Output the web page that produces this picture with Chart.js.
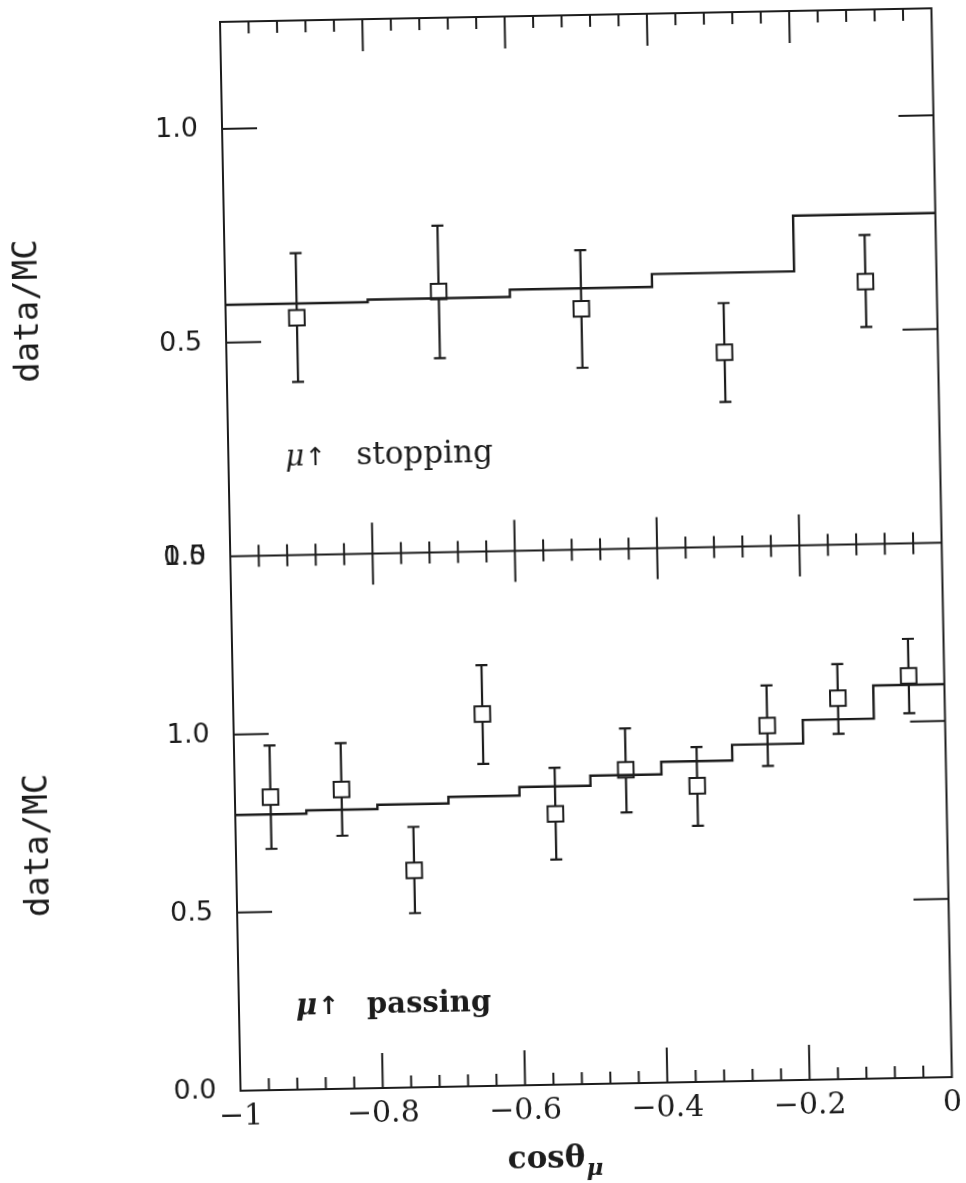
<!DOCTYPE html>
<html lang="en">
  <head>
    <meta charset="UTF-8" />
    <meta name="viewport" content="width=device-width, initial-scale=1.0" />
    <title>data/MC vs cos theta</title>
    <style>
      html, body { margin: 0; padding: 0; background: #fff; overflow: hidden; }
      /* the scanned figure sits slightly tilted, tilt the canvas the same way */
      #chart { display: block; transform: rotate(-1.1deg); transform-origin: 50% 50%; }
    </style>
  </head>
  <body>
    <canvas id="chart" width="966" height="1183"></canvas>
  </body>
  <script src="https://cdn.jsdelivr.net/npm/chart.js"></script>
  <script>
    // upward stopping muons, 0.2 wide bins
    var stopEdges = [-1, -0.8, -0.6, -0.4, -0.2, 0];
    var stopX = [-0.9, -0.7, -0.5, -0.3, -0.1];
    var stopRatio = [0.555, 0.61, 0.563, 0.455, 0.614];
    var stopLow = [0.405, 0.454, 0.425, 0.339, 0.508];
    var stopHigh = [0.706, 0.764, 0.7, 0.57, 0.723];
    var stopMC = [0.588, 0.594, 0.611, 0.641, 0.771];

    // upward through-going muons, 0.1 wide bins
    var passEdges = [-1, -0.9, -0.8, -0.7, -0.6, -0.5, -0.4, -0.3, -0.2, -0.1, 0];
    var passX = [-0.95, -0.85, -0.75, -0.65, -0.55, -0.45, -0.35, -0.25, -0.15, -0.05];
    var passRatio = [0.822, 0.84, 0.609, 1.044, 0.76, 0.88, 0.831, 0.996, 1.069, 1.128];
    var passLow = [0.677, 0.71, 0.489, 0.904, 0.632, 0.76, 0.719, 0.883, 0.969, 1.023];
    var passHigh = [0.967, 0.97, 0.731, 1.181, 0.889, 0.996, 0.94, 1.109, 1.165, 1.232];
    var passMC = [0.774, 0.783, 0.795, 0.813, 0.837, 0.865, 0.9, 0.944, 1.01, 1.103];

    var xTicks = [-1, -0.8, -0.6, -0.4, -0.2, 0];
    var stopTicks = [0, 0.5, 1.0];
    var passTicks = [0, 0.5, 1.0, 1.5];

    var ink = "#1c1c1c";
    var serif = '"DejaVu Serif", serif';
    var sans = '"DejaVu Sans", sans-serif';
    var mono = '"DejaVu Sans Mono", monospace';

    function histo(edges, vals) {
      // one point per left edge, plus the closing right edge
      return edges.map(function (x, i) {
        return { x: x, y: vals[Math.min(i, vals.length - 1)] };
      });
    }

    function points(xs, ys) {
      return xs.map(function (x, i) {
        return { x: x, y: ys[i] };
      });
    }

    var errorBars = {
      id: "errorBars",
      beforeDatasetsDraw: function (chart) {
        var ctx = chart.ctx;
        var xs = chart.scales.x;
        var sets = [
          [chart.scales.yTop, stopX, stopLow, stopHigh],
          [chart.scales.yBot, passX, passLow, passHigh],
        ];
        ctx.save();
        ctx.strokeStyle = ink;
        ctx.lineWidth = 2.2;
        sets.forEach(function (s) {
          var ys = s[0];
          s[1].forEach(function (v, i) {
            var px = xs.getPixelForValue(v);
            var lo = ys.getPixelForValue(s[2][i]);
            var hi = ys.getPixelForValue(s[3][i]);
            ctx.beginPath();
            ctx.moveTo(px, lo);
            ctx.lineTo(px, hi);
            ctx.moveTo(px - 6, lo);
            ctx.lineTo(px + 6, lo);
            ctx.moveTo(px - 6, hi);
            ctx.lineTo(px + 6, hi);
            ctx.stroke();
          });
        });
        ctx.restore();
      },
    };

    var frame = {
      id: "frame",
      afterDraw: function (chart) {
        var ctx = chart.ctx;
        var a = chart.chartArea;
        var xs = chart.scales.x;
        var yt = chart.scales.yTop;
        var yb = chart.scales.yBot;
        var mid = yt.bottom;
        ctx.save();
        ctx.strokeStyle = ink;
        ctx.lineWidth = 2;
        ctx.strokeRect(a.left, a.top, a.right - a.left, a.bottom - a.top);
        ctx.beginPath();
        ctx.moveTo(a.left, mid);
        ctx.lineTo(a.right, mid);

        // x ticks every 0.04, major every 0.2
        for (var i = 1; i < 25; i++) {
          var px = xs.getPixelForValue(-1 + i * 0.04);
          var major = i % 5 === 0;
          ctx.moveTo(px, a.top);
          ctx.lineTo(px, a.top + (major ? 32 : 12));
          ctx.moveTo(px, mid - (major ? 31 : 11));
          ctx.lineTo(px, mid + (major ? 31 : 11));
          ctx.moveTo(px, a.bottom);
          ctx.lineTo(px, a.bottom - (major ? 35 : 12));
        }

        // y ticks on both sides, pointing in
        [[yt, stopTicks], [yb, passTicks]].forEach(function (p) {
          p[1].forEach(function (v) {
            if (v === 0 || v === p[0].max) return;
            var py = p[0].getPixelForValue(v);
            ctx.moveTo(a.left, py);
            ctx.lineTo(a.left + 35, py);
            ctx.moveTo(a.right, py);
            ctx.lineTo(a.right - 35, py);
          });
        });
        ctx.stroke();

        // panel labels
        ctx.fillStyle = ink;
        ctx.textBaseline = "alphabetic";
        ctx.textAlign = "left";
        [[yt, "stopping", "", 31], [yb, "passing", "bold ", 29]].forEach(function (p) {
          var by = p[0].getPixelForValue(0.21);
          var mx = xs.getPixelForValue(-0.92);
          ctx.font = "italic " + p[2] + "29px " + serif;
          ctx.fillText("μ", mx, by);
          var w = ctx.measureText("μ").width;
          ctx.font = p[2] + "25px " + sans;
          ctx.fillText("↑", mx + w + 1, by);
          ctx.font = p[2] + p[3] + "px " + serif;
          ctx.fillText(p[1], xs.getPixelForValue(-0.82), by);
        });

        // y titles
        ctx.font = "34px " + mono;
        ctx.textAlign = "center";
        ctx.textBaseline = "middle";
        [yt, yb].forEach(function (s) {
          ctx.save();
          ctx.translate(34, (s.top + s.bottom) / 2 + 18);
          ctx.rotate(-Math.PI / 2);
          ctx.fillText("data/MC", 0, 0);
          ctx.restore();
        });

        // x title: cos theta with mu subscript
        ctx.textAlign = "left";
        ctx.textBaseline = "alphabetic";
        ctx.font = "bold 31px " + serif;
        var main = "cosθ";
        var mw = ctx.measureText(main).width;
        ctx.font = "italic bold 23px " + serif;
        var sw = ctx.measureText("μ").width;
        var tx = xs.getPixelForValue(-0.56) - (mw + sw) / 2;
        var ty = a.bottom + 83;
        ctx.font = "bold 31px " + serif;
        ctx.fillText(main, tx, ty);
        ctx.font = "italic bold 23px " + serif;
        ctx.fillText("μ", tx + mw + 1, ty + 8);
        ctx.restore();
      },
    };

    function yAxis(min, max, list) {
      return {
        type: "linear",
        position: "left",
        stack: "panels",
        stackWeight: 1,
        min: min,
        max: max,
        grid: { display: false, drawTicks: false },
        border: { display: false },
        afterBuildTicks: function (s) {
          s.ticks = list.map(function (v) {
            return { value: v };
          });
        },
        afterFit: function (s) {
          s.width = 231;
          s.paddingTop = 0;
          s.paddingBottom = 0;
        },
        ticks: {
          padding: 24,
          color: ink,
          font: { family: sans, size: 27 },
          callback: function (v) {
            return v.toFixed(1);
          },
        },
      };
    }

    var config = {
      type: "scatter",
      data: {
        datasets: [
          {
            type: "line",
            data: histo(stopEdges, stopMC),
            yAxisID: "yTop",
            stepped: true,
            borderColor: ink,
            borderWidth: 2.4,
            pointRadius: 0,
            fill: false,
          },
          {
            data: points(stopX, stopRatio),
            yAxisID: "yTop",
            pointStyle: "rect",
            pointRadius: 11,
            pointBorderWidth: 2,
            backgroundColor: "#fff",
            borderColor: ink,
          },
          {
            type: "line",
            data: histo(passEdges, passMC),
            yAxisID: "yBot",
            stepped: true,
            borderColor: ink,
            borderWidth: 2.4,
            pointRadius: 0,
            fill: false,
          },
          {
            data: points(passX, passRatio),
            yAxisID: "yBot",
            pointStyle: "rect",
            pointRadius: 11,
            pointBorderWidth: 2,
            backgroundColor: "#fff",
            borderColor: ink,
          },
        ],
      },
      options: {
        responsive: false,
        animation: false,
        layout: { padding: { left: 0, top: 17, right: 23.5, bottom: 0 } },
        plugins: { legend: { display: false }, tooltip: { enabled: false } },
        scales: {
          x: {
            type: "linear",
            position: "bottom",
            min: -1,
            max: 0,
            grid: { display: false, drawTicks: false },
            border: { display: false },
            afterBuildTicks: function (s) {
              s.ticks = xTicks.map(function (v) {
                return { value: v };
              });
            },
            afterFit: function (s) {
              s.height = 97;
              s.paddingLeft = 0;
              s.paddingRight = 0;
            },
            ticks: {
              padding: 8,
              autoSkip: false,
              maxRotation: 0,
              color: ink,
              font: { family: serif, size: 30 },
              callback: function (v) {
                if (v === 0) return "0";
                if (v === -1) return "−1";
                return "−" + Math.abs(v).toFixed(1);
              },
            },
          },
          // left boxes are stacked in reverse order, so the lower panel comes first
          yBot: yAxis(0, 1.5, passTicks),
          yTop: yAxis(0, 1.25, stopTicks),
        },
      },
      plugins: [errorBars, frame],
    };

    var myChart = new Chart(document.getElementById("chart"), config);
  </script>
</html>
